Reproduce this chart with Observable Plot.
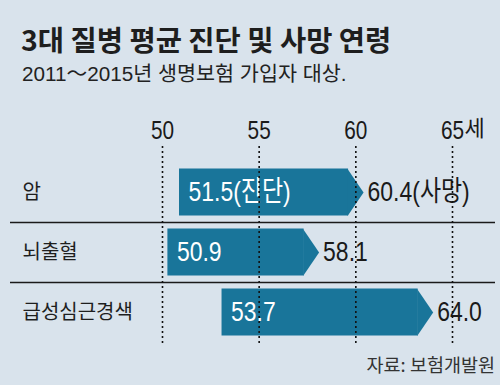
<!DOCTYPE html>
<html>
<head>
<meta charset="utf-8">
<script src="https://cdn.jsdelivr.net/npm/d3@7"></script>
<script src="https://cdn.jsdelivr.net/npm/@observablehq/plot@0.6"></script>
<style>
  html, body { margin: 0; padding: 0; }
  body { width: 500px; height: 385px; background: #d9e3ec; position: relative; overflow: hidden; font-family: "Noto Sans CJK KR", sans-serif; color: #1e1e1e; }
  #title { position: absolute; left: 21px; top: 25px; font-size: 28.5px; font-weight: bold; line-height: 1; white-space: nowrap; }
  #subtitle { position: absolute; left: 22px; top: 64px; font-size: 20.7px; line-height: 1; white-space: nowrap; color: #222; font-family: "Liberation Sans", "Noto Sans CJK KR", sans-serif; }
  #chart { position: absolute; left: 0; top: 100px; }
  #source { position: absolute; right: 5px; top: 355px; font-size: 18.5px; line-height: 1; color: #333; white-space: nowrap; }
</style>
</head>
<body>
<div id="title">3대 질병 평균 진단 및 사망 연령</div>
<div id="subtitle">2011～2015년 생명보험 가입자 대상.</div>
<div id="chart"></div>
<div id="source">자료: 보험개발원</div>
<script>
const categories = ["암", "뇌출혈", "급성심근경색"];
const diagnosis = [51.5, 50.9, 53.7];
const death = [60.4, 58.1, 64.0];
const diagSuffix = ["(진단)", "", ""];
const deathSuffix = ["(사망)", "", ""];
const ticks = [50, 55, 60, 65];
const tickUnit = "세";

const data = categories.map((c, i) => ({
  cat: c,
  diag: diagnosis[i],
  death: death[i],
  diagLabel: diagnosis[i].toFixed(1) + diagSuffix[i],
  deathLabel: death[i].toFixed(1) + deathSuffix[i]
}));

const barColor = "#19759a";
const numFont = "'Liberation Sans', Arial, 'Noto Sans CJK KR', sans-serif";

const arrowTip = {
  draw(context) {
    context.moveTo(-16, -23.5);
    context.lineTo(0, 0);
    context.lineTo(-16, 23.5);
    context.closePath();
  }
};

const chart = Plot.plot({
  width: 500,
  height: 255,
  marginTop: 62,
  marginBottom: 13,
  marginLeft: 162,
  marginRight: 48,
  x: {domain: [50, 65], axis: null},
  y: {domain: categories, axis: null, padding: 0},
  style: {background: "transparent", overflow: "visible", fontFamily: numFont},
  marks: [
    Plot.ruleY(categories.slice(1), {y: d => d, dy: -30, stroke: "#1a1a1a", strokeWidth: 1.5, insetLeft: -152, insetRight: -43}),
    Plot.rect(data, {x1: "diag", x2: "death", y: "cat", fill: barColor, insetLeft: -12, insetRight: 15, insetTop: 6.5, insetBottom: 6.5}),
    Plot.dot(data, {x: "death", y: "cat", symbol: arrowTip, fill: barColor, stroke: "none", r: 5}),
    Plot.text(data, {x: "diag", y: "cat", text: "diagLabel", fill: "white", textAnchor: "start", dx: -3, fontSize: 28, fontFamily: numFont}),
    Plot.text(data, {x: "death", y: "cat", text: "deathLabel", fill: "#1a1a1a", textAnchor: "start", dx: 4, fontSize: 28, fontFamily: numFont}),
    Plot.text(categories, {y: d => d, frameAnchor: "left", dx: -140, textAnchor: "start", fill: "#1e1e1e", fontSize: 20, fontFamily: "'Noto Sans CJK KR', sans-serif"}),
    Plot.text(ticks, {x: d => d, frameAnchor: "top", dy: -42, text: d => String(d), fill: "#1a1a1a", fontSize: 26, fontFamily: numFont}),
    Plot.text(ticks.slice(-1), {x: d => d, frameAnchor: "top", dy: -42, dx: 12, text: () => tickUnit, textAnchor: "start", fill: "#1a1a1a", fontSize: 22, fontFamily: "'Noto Sans CJK KR', sans-serif"}),
    Plot.ruleX(ticks, {x: d => d, stroke: "#111", strokeWidth: 1.6, strokeDasharray: "2,3", insetTop: -16, insetBottom: -3})
  ]
});

// condensed look for the numeric labels (like the original's condensed typeface)
d3.select(chart).selectAll("text").each(function() {
  const t = this.textContent;
  if (!/^\d/.test(t)) return;
  const tr = this.getAttribute("transform");
  if (!tr) return;
  const s = t.length <= 2 ? 0.8 : 0.82;
  this.setAttribute("transform", tr + ` scale(${s},1)`);
});

document.getElementById("chart").appendChild(chart);
</script>
</body>
</html>
